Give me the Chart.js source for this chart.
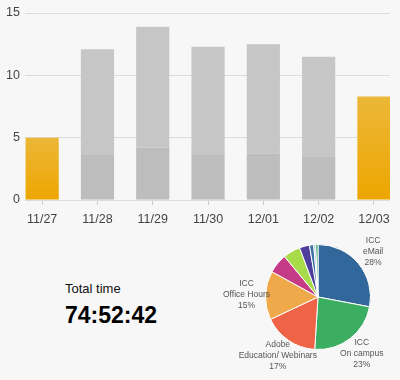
<!DOCTYPE html>
<html><head><meta charset="utf-8">
<script src="https://cdn.jsdelivr.net/npm/chart.js@4/dist/chart.umd.min.js"></script>
<style>
html,body{margin:0;padding:0;background:#f7f7f7;width:400px;height:380px;overflow:hidden;font-family:"Liberation Sans",Arial,sans-serif;}
#barWrap{position:absolute;left:0;top:0;width:400px;height:232px;}
#pieWrap{position:absolute;left:200px;top:232px;width:200px;height:148px;}
#tt{position:absolute;left:65px;top:281px;font-size:13px;color:#111;white-space:nowrap;}
#tv{position:absolute;left:65px;top:302px;font-size:23px;font-weight:bold;color:#000;white-space:nowrap;}
</style></head><body>
<div id="barWrap"><canvas id="bar"></canvas></div>
<div id="pieWrap"><canvas id="pie"></canvas></div>
<div id="tt">Total time</div><div id="tv">74:52:42</div>
<script>
// ---- data ----
const days = ['11/27','11/28','11/29','11/30','12/01','12/02','12/03'];
const totalHours = [null, 12.1, 13.9, 12.3, 12.5, 11.5, null];
const baseHours = [null, 3.6, 4.2, 3.6, 3.7, 3.5, null];
const highlightHours = [5.0, null, null, null, null, null, 8.3];
const yTicks = [0, 5, 10, 15];

const sources = [['ICC','eMail'],['ICC','On campus'],['Adobe','Education/ Webinars'],['ICC','Office Hours'],
  ['Other A'],['Other B'],['Other C'],['Other D'],['Other E'],['Other F']];
const sourceShare = [28, 23, 17, 15, 6, 5.3, 3.1, 1.3, 0.6, 0.7];
const sourceColors = ['#31679a','#3bae62','#ef6447','#efa84a','#c53b86','#a8db4a','#4e3f9d','#3d70a9','#8db5da','#2f9b5c'];

const FONT = '"Liberation Sans", Arial, sans-serif';

// ---- bar chart ----
function orange(c){
  const ch = c.chart, a = ch.chartArea;
  if (!a || !c.parsed || c.parsed.y == null) return '#ecac10';
  const top = ch.scales.y.getPixelForValue(c.parsed.y);
  const g = ch.ctx.createLinearGradient(0, top, 0, a.bottom);
  g.addColorStop(0, '#ecb738');
  g.addColorStop(1, '#eda600');
  return g;
}
new Chart(document.getElementById('bar'), {
  type: 'bar',
  data: { datasets: [
    { data: days.map((d,i)=>({x:i, y:baseHours[i]})), backgroundColor:'#bdbdbd' },
    { data: days.map((d,i)=>({x:i, y: totalHours[i]==null ? null : +(totalHours[i]-baseHours[i]).toFixed(2)})), backgroundColor:'#c6c6c6' },
    { data: days.map((d,i)=>({x:i, y:highlightHours[i]})), backgroundColor: orange }
  ]},
  options: {
    animation:false, responsive:true, maintainAspectRatio:false,
    layout:{ padding:{ top:13, right:10, left:0, bottom:0 } },
    plugins:{ legend:{display:false}, tooltip:{enabled:false} },
    datasets:{ bar:{ barPercentage:0.6, categoryPercentage:1 } },
    scales:{
      x:{
        type:'linear', stacked:true, min:-0.31, max:6.29, offset:false,
        afterBuildTicks(s){ s.ticks = days.map((d,i)=>({value:i})); },
        ticks:{ callback:(v)=>days[v], font:{size:12.5, family:FONT}, color:'#444', padding:7, autoSkip:false, maxRotation:0 },
        grid:{ drawOnChartArea:false, drawTicks:true, tickLength:5, color:'#cccccc', offset:false },
        border:{ display:false },
        afterFit(s){ s.height = 32; }
      },
      y:{
        stacked:true, min:0, max:15,
        afterBuildTicks(s){ s.ticks = yTicks.map(v=>({value:v})); },
        ticks:{ font:{size:12.5, family:FONT}, color:'#444', padding:5 },
        grid:{ color:'#dcdcdc', drawTicks:false },
        border:{ display:false },
        afterFit(s){ s.width = 25; }
      }
    }
  }
});

// ---- pie chart ----
const pieLabels = {
  id:'pieLabels',
  afterDatasetsDraw(chart){
    const ctx = chart.ctx, meta = chart.getDatasetMeta(0);
    const vals = chart.data.datasets[0].data;
    const total = vals.reduce((a,b)=>a+b,0);
    ctx.save();
    ctx.font = '8.5px ' + FONT;
    ctx.fillStyle = '#555';
    ctx.textAlign = 'center';
    ctx.textBaseline = 'middle';
    meta.data.forEach((arc,i)=>{
      const pct = vals[i]/total*100;
      if (pct < 10) return;
      const mid = (arc.startAngle + arc.endAngle)/2;
      const r = arc.outerRadius + 19;
      const x = arc.x + Math.cos(mid)*r, y = arc.y + Math.sin(mid)*r;
      const lines = [...sources[i], Math.round(pct) + '%'];
      lines.forEach((l,k)=>ctx.fillText(l, x, y + (k - (lines.length-1)/2)*11));
    });
    ctx.restore();
  }
};
new Chart(document.getElementById('pie'), {
  type:'pie',
  data:{ labels: sources.map(s=>s.join(' ')), datasets:[{ data: sourceShare, backgroundColor: sourceColors, borderColor:'#ffffff', borderWidth:1 }] },
  options:{
    animation:false, responsive:true, maintainAspectRatio:false,
    layout:{ padding:{ left:65, right:29, top:12, bottom:30 } },
    plugins:{ legend:{display:false}, tooltip:{enabled:false} }
  },
  plugins:[pieLabels]
});
</script>
</body></html>
